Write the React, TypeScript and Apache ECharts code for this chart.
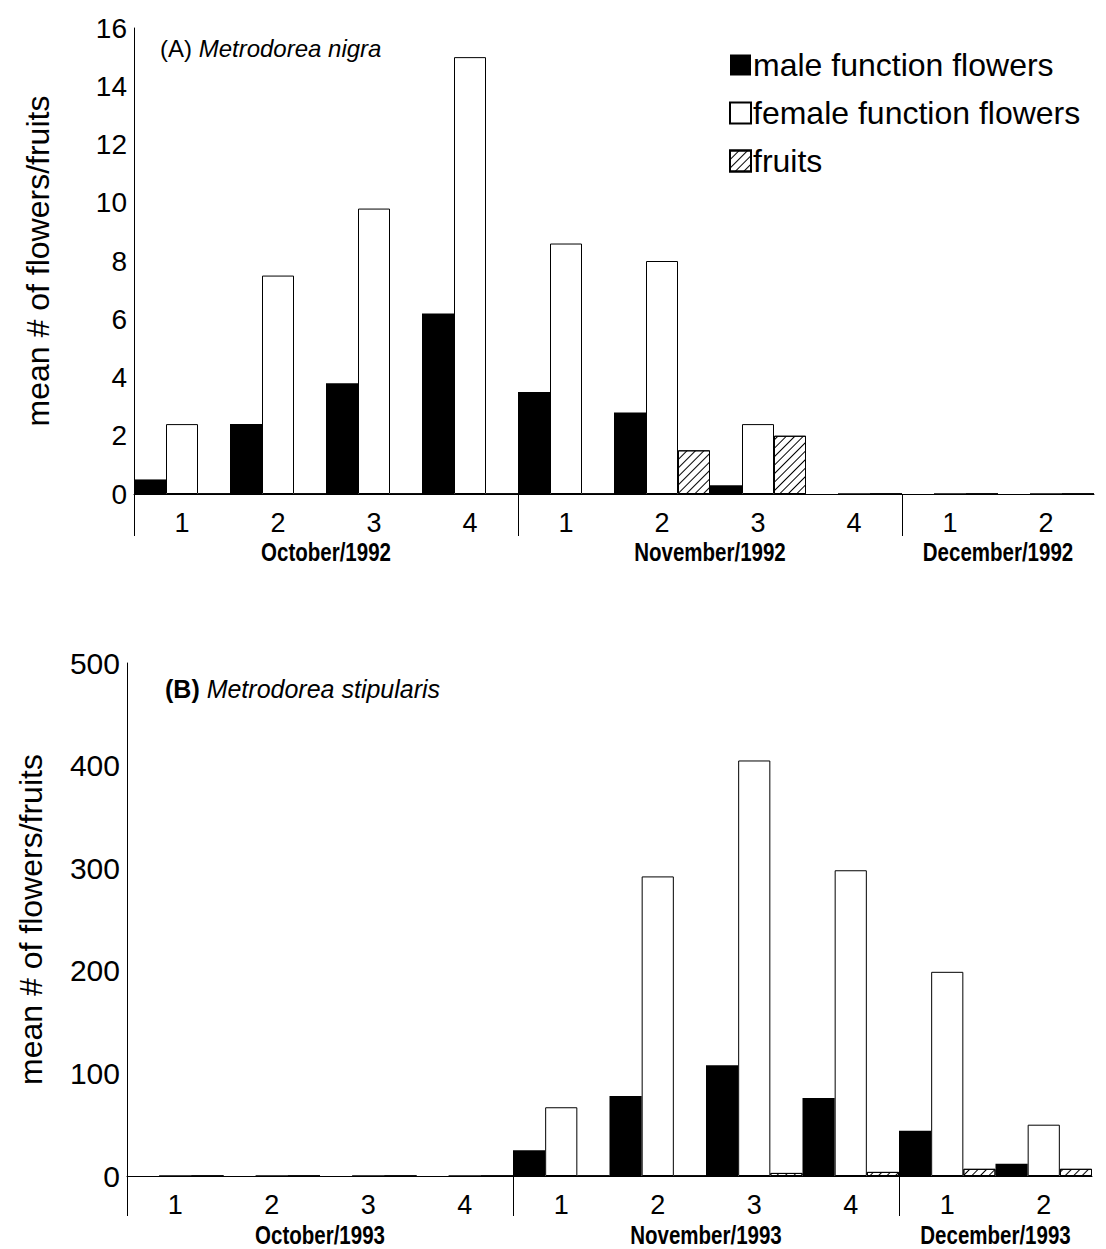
import React, { useEffect, useRef } from "react";
import * as echarts from "echarts";

// ---------- data ----------
const weekLabels = ["1", "2", "3", "4", "1", "2", "3", "4", "1", "2"];

const monthsA = ["October/1992", "November/1992", "December/1992"];
const monthsB = ["October/1993", "November/1993", "December/1993"];
// month blocks: [startCategoryIndex, endCategoryIndex]
const monthBlockStart = [0, 4, 8];
const monthBlockEnd = [4, 8, 10];

const maleA = [0.5, 2.4, 3.8, 6.2, 3.5, 2.8, 0.3, 0, 0, 0];
const femaleA = [2.4, 7.5, 9.8, 15.0, 8.6, 8.0, 2.4, 0, 0, 0];
const fruitsA = [0, 0, 0, 0, 0, 1.5, 2.0, 0, 0, 0];

const maleB = [0, 0, 0, 0, 25, 78, 108, 76, 44, 12];
const femaleB = [0, 0, 0, 0, 67, 292, 405, 298, 199, 50];
const fruitsB = [0, 0, 0, 0, 0, 0, 3, 4, 7, 7];

const seriesNames = ["male function flowers", "female function flowers", "fruits"];
const yTitle = "mean # of flowers/fruits";

const FONT = "'Liberation Sans', Arial, Helvetica, sans-serif";

function barSeries(gridIdx: number, male: number[], female: number[], fruits: number[]) {
  const common = {
    type: "bar",
    xAxisIndex: gridIdx,
    yAxisIndex: gridIdx,
    barGap: "0%",
    barCategoryGap: "0%",
  };
  return [
    { ...common, name: seriesNames[0], data: male, itemStyle: { color: "#000" } },
    {
      ...common,
      name: seriesNames[1],
      data: female,
      itemStyle: { color: "#fff", borderColor: "#000", borderWidth: 1 },
    },
    {
      ...common,
      name: seriesNames[2],
      data: fruits,
      itemStyle: {
        color: "#fff",
        borderColor: "#000",
        borderWidth: 1,
        decal: {
          symbol: "rect",
          symbolSize: 1,
          color: "#000",
          backgroundColor: "#fff",
          dashArrayX: [1, 0],
          dashArrayY: [1, 5],
          rotation: -Math.PI / 4,
        },
      },
    },
  ];
}

function separatorSeries(gridIdx: number, tickLen: number) {
  return {
    type: "custom",
    xAxisIndex: gridIdx,
    yAxisIndex: gridIdx,
    clip: false,
    silent: true,
    z: 5,
    data: monthBlockStart.map((s) => [s, 0]),
    renderItem: (params: any, api: any) => {
      const p = api.coord([api.value(0), 0]);
      const band = api.size([1, 0])[0];
      const x = Math.round(p[0] - band / 2) + 0.5;
      return {
        type: "line",
        shape: { x1: x, y1: p[1], x2: x, y2: p[1] + tickLen },
        style: { stroke: "#000", lineWidth: 1 },
      };
    },
  };
}

function monthSeries(gridIdx: number, labels: string[], offset: number) {
  return {
    type: "custom",
    xAxisIndex: gridIdx,
    yAxisIndex: gridIdx,
    clip: false,
    silent: true,
    z: 5,
    data: monthBlockStart.map((s, i) => [s, 0, monthBlockEnd[i]]),
    renderItem: (params: any, api: any) => {
      const start = api.value(0);
      const end = api.value(2);
      const p = api.coord([start, 0]);
      const band = api.size([1, 0])[0];
      const x = p[0] - band / 2 + ((end - start) * band) / 2;
      return {
        type: "text",
        x,
        y: p[1] + offset,
        scaleX: 0.82,
        style: {
          text: labels[params.dataIndex],
          fontSize: 25,
          fontWeight: "bold",
          fontFamily: FONT,
          fill: "#000",
          align: "center",
          verticalAlign: "middle",
        },
      };
    },
  };
}

function xAxis(gridIdx: number) {
  return {
    type: "category",
    gridIndex: gridIdx,
    data: weekLabels,
    axisLine: { lineStyle: { color: "#000", width: 1 } },
    axisTick: { show: false },
    axisLabel: { color: "#000", fontSize: 27, fontFamily: FONT, margin: 15 },
    splitLine: { show: false },
  };
}

function yAxis(gridIdx: number, max: number, interval: number, fontSize: number) {
  return {
    type: "value",
    gridIndex: gridIdx,
    min: 0,
    max,
    interval,
    name: yTitle,
    nameLocation: "middle",
    nameGap: 80,
    nameTextStyle: { color: "#000", fontSize: 32, fontFamily: FONT },
    axisLine: { show: true, lineStyle: { color: "#000", width: 1 } },
    axisTick: { show: false },
    splitLine: { show: false },
    axisLabel: { color: "#000", fontSize, fontFamily: FONT, margin: 7 },
  };
}

export default function App() {
  const ref = useRef<HTMLDivElement>(null);

  useEffect(() => {
    if (!ref.current) return;
    const chart = echarts.init(ref.current, null, { renderer: "svg" });
    chart.setOption({
      animation: false,
      backgroundColor: "#fff",
      textStyle: { fontFamily: FONT },
      grid: [
        { left: 134, top: 28, width: 960, height: 466 },
        { left: 127, top: 663, width: 965, height: 513 },
      ],
      xAxis: [xAxis(0), xAxis(1)],
      yAxis: [yAxis(0, 16, 2, 28), yAxis(1, 500, 100, 30)],
      legend: {
        data: seriesNames,
        orient: "vertical",
        left: 724,
        top: 44,
        icon: "rect",
        itemWidth: 21,
        itemHeight: 21,
        itemGap: 16,
        textStyle: { color: "#000", fontSize: 32, fontFamily: FONT, padding: [0, 0, 0, -3] },
      },
      graphic: [
        {
          type: "text",
          left: 160,
          top: 36,
          style: {
            text: "(A) {i|Metrodorea nigra}",
            fontSize: 24,
            fontFamily: FONT,
            fill: "#000",
            rich: { i: { fontStyle: "italic", fontSize: 24, fontFamily: FONT, fill: "#000" } },
          },
        },
        {
          type: "text",
          left: 165,
          top: 676,
          style: {
            text: "{b|(B)} {i|Metrodorea stipularis}",
            fontSize: 25,
            fontFamily: FONT,
            fill: "#000",
            rich: {
              b: { fontWeight: "bold", fontSize: 25, fontFamily: FONT, fill: "#000" },
              i: { fontStyle: "italic", fontSize: 25, fontFamily: FONT, fill: "#000" },
            },
          },
        },
      ],
      series: [
        ...barSeries(0, maleA, femaleA, fruitsA),
        ...barSeries(1, maleB, femaleB, fruitsB),
        separatorSeries(0, 42),
        separatorSeries(1, 40),
        monthSeries(0, monthsA, 58),
        monthSeries(1, monthsB, 59),
      ],
    });
    return () => chart.dispose();
  }, []);

  return (
    <div
      ref={ref}
      style={{ position: "absolute", left: 0, top: 0, width: 1106, height: 1249, background: "#fff" }}
    />
  );
}
